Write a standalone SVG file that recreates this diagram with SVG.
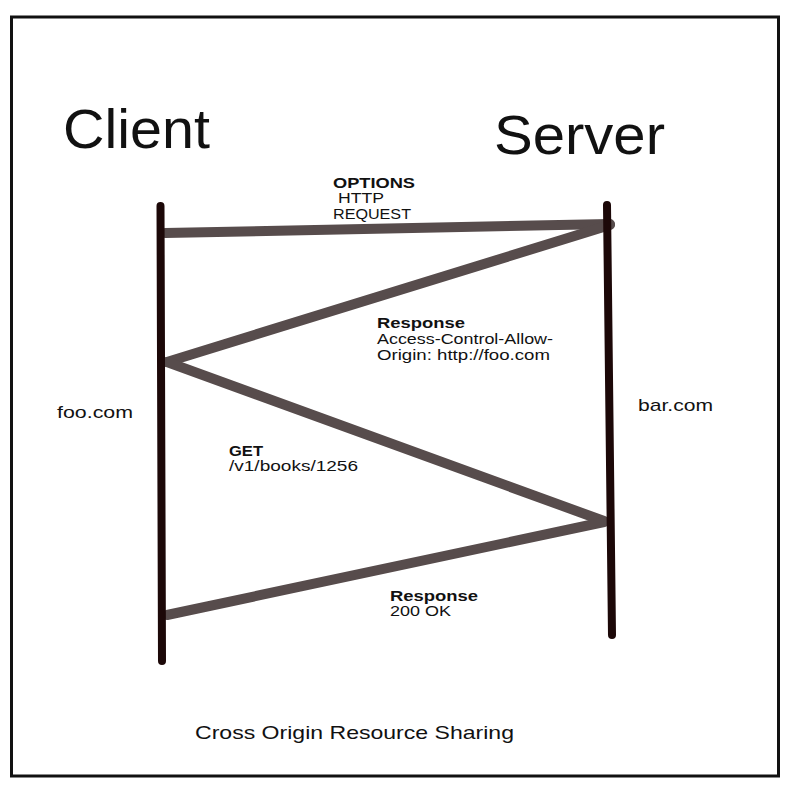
<svg xmlns="http://www.w3.org/2000/svg" width="812" height="802" viewBox="0 0 812 802">
<style>
.t{font-family:"Liberation Sans",Arial,sans-serif;fill:#111}
.b{font-weight:bold}
.life{stroke:#1c0808;stroke-width:8;stroke-linecap:round;fill:none}
.msg{stroke:#574c4c;stroke-width:10;stroke-linecap:round;fill:none}
</style>
<rect x="0" y="0" width="812" height="802" fill="#fff"/>
<rect x="11.5" y="17" width="767" height="759" fill="none" stroke="#111" stroke-width="3"/>
<g id="connectors">
<line class="msg" x1="165" y1="233" x2="610" y2="224"/>
<line class="msg" x1="610" y1="225" x2="167" y2="362"/>
<line class="msg" x1="167" y1="362" x2="604" y2="521"/>
<line class="msg" x1="604" y1="522" x2="167" y2="615"/>
</g>
<g id="client">
<line class="life" x1="160.5" y1="206" x2="162" y2="661"/>
<text class="t" x="63" y="148" font-size="55" textLength="147" lengthAdjust="spacingAndGlyphs">Client</text>
<text class="t" x="57" y="418" font-size="17" textLength="76" lengthAdjust="spacingAndGlyphs">foo.com</text>
</g>
<g id="server">
<line class="life" x1="607" y1="205" x2="612" y2="635"/>
<text class="t" x="494" y="154" font-size="55" textLength="171" lengthAdjust="spacingAndGlyphs">Server</text>
<text class="t" x="638" y="411" font-size="17" textLength="75" lengthAdjust="spacingAndGlyphs">bar.com</text>
</g>
<g id="label-options">
<text class="t b" x="333" y="188" font-size="15" textLength="82" lengthAdjust="spacingAndGlyphs">OPTIONS</text>
<text class="t" x="338" y="203" font-size="14" textLength="46" lengthAdjust="spacingAndGlyphs">HTTP</text>
<text class="t" x="333" y="219" font-size="14" textLength="78" lengthAdjust="spacingAndGlyphs">REQUEST</text>
</g>
<g id="label-response1">
<text class="t b" x="377" y="328" font-size="15" textLength="88" lengthAdjust="spacingAndGlyphs">Response</text>
<text class="t" x="377" y="344" font-size="14" textLength="176" lengthAdjust="spacingAndGlyphs">Access-Control-Allow-</text>
<text class="t" x="377" y="360" font-size="14" textLength="173" lengthAdjust="spacingAndGlyphs">Origin: http://foo.com</text>
</g>
<g id="label-get">
<text class="t b" x="229" y="456" font-size="15" textLength="34" lengthAdjust="spacingAndGlyphs">GET</text>
<text class="t" x="229" y="471" font-size="14" textLength="129" lengthAdjust="spacingAndGlyphs">/v1/books/1256</text>
</g>
<g id="label-response2">
<text class="t b" x="390" y="601" font-size="15" textLength="88" lengthAdjust="spacingAndGlyphs">Response</text>
<text class="t" x="390" y="616" font-size="14" textLength="61" lengthAdjust="spacingAndGlyphs">200 OK</text>
</g>
<g id="caption">
<text class="t" x="195" y="739" font-size="19" textLength="319" lengthAdjust="spacingAndGlyphs">Cross Origin Resource Sharing</text>
</g>
</svg>
